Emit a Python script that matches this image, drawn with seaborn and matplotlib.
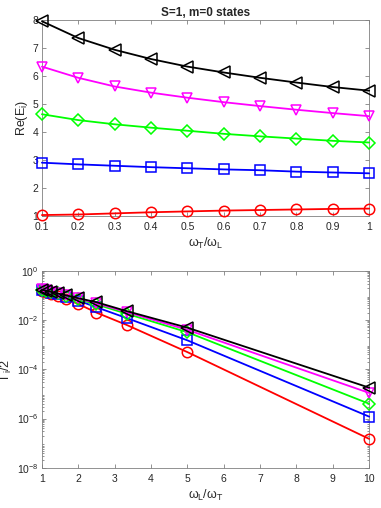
import numpy as np
import pandas as pd
import matplotlib
matplotlib.use("Agg")
import matplotlib.pyplot as plt
import seaborn as sns
from matplotlib.ticker import LogLocator, NullFormatter

# Data
wt_wl = [0.1, 0.2, 0.3, 0.4, 0.5, 0.6, 0.7, 0.8, 0.9, 1.0]
wl_wt = [10.0, 5.0, 3.333, 2.5, 2.0, 1.667, 1.429, 1.25, 1.111, 1.0]

re_e1 = [1.03, 1.05, 1.09, 1.13, 1.16, 1.19, 1.21, 1.23, 1.25, 1.26]
re_e2 = [2.90, 2.84, 2.79, 2.74, 2.70, 2.66, 2.63, 2.58, 2.55, 2.52]
re_e3 = [4.63, 4.42, 4.27, 4.15, 4.04, 3.93, 3.84, 3.76, 3.68, 3.62]
re_e4 = [6.33, 5.93, 5.62, 5.40, 5.22, 5.06, 4.92, 4.79, 4.67, 4.56]
re_e5 = [7.95, 7.35, 6.93, 6.60, 6.33, 6.12, 5.93, 5.76, 5.60, 5.47]

gam1 = [1.5e-7, 5e-4, 6.3e-3, 2.0e-2, 4.5e-2, 7.2e-2, 9.5e-2, 0.115, 0.135, 0.15]
gam2 = [1.2e-6, 1.5e-3, 1.2e-2, 3.3e-2, 6.2e-2, 0.090, 0.110, 0.130, 0.150, 0.165]
gam3 = [4.0e-6, 3.2e-3, 1.8e-2, 4.3e-2, 7.0e-2, 0.095, 0.120, 0.140, 0.155, 0.170]
gam4 = [1.1e-5, 4.0e-3, 2.1e-2, 4.8e-2, 7.5e-2, 0.100, 0.120, 0.140, 0.160, 0.175]
gam5 = [1.8e-5, 4.9e-3, 2.3e-2, 5.3e-2, 7.7e-2, 0.100, 0.120, 0.140, 0.155, 0.170]

colors = ["#ff0000", "#0000ff", "#00ff00", "#ff00ff", "#000000"]
markers = ["o", "s", "D", "v", "<"]
msizes = [7.5, 6.5, 6.5, 7.5, 8]
re_vals = [re_e1, re_e2, re_e3, re_e4, re_e5]
gam_vals = [gam1, gam2, gam3, gam4, gam5]

sns.set_style("ticks")
plt.rcParams["font.family"] = ["Liberation Sans", "DejaVu Sans"]
plt.rcParams["mathtext.fontset"] = "custom"
plt.rcParams["mathtext.rm"] = "Liberation Sans"
plt.rcParams["mathtext.it"] = "Liberation Sans"

fig = plt.figure(figsize=(3.81, 5.08), dpi=100)
ax1 = fig.add_axes([0.110, 0.575, 0.859, 0.386])
ax2 = fig.add_axes([0.110, 0.079, 0.859, 0.388])

axis_gray = "#262626"

for ax, xs, series in ((ax1, wt_wl, re_vals), (ax2, wl_wt, gam_vals)):
    for vals, c, m, ms in zip(series, colors, markers, msizes):
        df = pd.DataFrame({"x": xs, "y": vals})
        sns.lineplot(data=df, x="x", y="y", ax=ax, color=c, marker=m, markersize=ms,
                     markerfacecolor="none", markeredgecolor=c, markeredgewidth=1.1,
                     linewidth=1.3, clip_on=False, zorder=3)

# top panel
ax1.set_xlim(0.1, 1)
ax1.set_ylim(1, 8)
ax1.set_xticks(wt_wl)
ax1.set_xticklabels(["0.1", "0.2", "0.3", "0.4", "0.5", "0.6", "0.7", "0.8", "0.9", "1"])
ax1.set_yticks(range(1, 9))
ax1.set_title("S=1, m=0 states", fontsize=8.5, fontweight="bold", pad=3)
ax1.set_xlabel(r"$\omega_T/\omega_L$", fontsize=9, color=axis_gray, labelpad=3)
ax1.set_ylabel(r"Re(E$_i$)", fontsize=9, color=axis_gray, labelpad=2)

# bottom panel
ax2.set_yscale("log")
ax2.set_xlim(1, 10)
ax2.set_ylim(1e-8, 1)
ax2.set_xticks(range(1, 11))
ax2.set_yticks([1e-8, 1e-6, 1e-4, 1e-2, 1])
ax2.yaxis.set_minor_locator(LogLocator(base=10, subs=np.arange(2, 10), numticks=20))
ax2.yaxis.set_minor_formatter(NullFormatter())
ax2.set_xlabel(r"$\omega_L/\omega_T$", fontsize=9, color=axis_gray, labelpad=3)
ax2.set_ylabel(r"$\Gamma_i/2$", fontsize=9, color=axis_gray, labelpad=2)

for ax in (ax1, ax2):
    for sp in ax.spines.values():
        sp.set_visible(True)
        sp.set_color("#808080")
        sp.set_linewidth(0.6)
    ax.tick_params(which="both", direction="in", top=True, right=True,
                   labelsize=7.5, colors="#808080", labelcolor=axis_gray,
                   width=0.6, pad=2.5)
    ax.tick_params(axis="x", which="major", pad=4.5)
    ax.tick_params(which="major", length=3)
    ax.tick_params(which="minor", length=1.5)

fig.savefig("out.png", dpi=100)
